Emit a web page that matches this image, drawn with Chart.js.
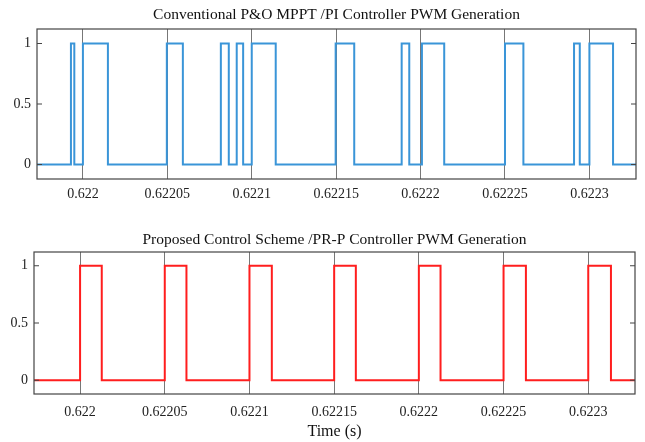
<!DOCTYPE html>
<html>
<head>
<meta charset="utf-8">
<script src="https://cdn.jsdelivr.net/npm/chart.js@4/dist/chart.umd.min.js"></script>
<style>
  body { margin: 0; background: #fff; }
  canvas { position: absolute; left: 0; }
</style>
</head>
<body>
<canvas id="convChart" width="645" height="215" style="top:0"></canvas>
<canvas id="propChart" width="645" height="227" style="top:215px"></canvas>
<script>
const timeTicks = [0.622, 0.62205, 0.6221, 0.62215, 0.6222, 0.62225, 0.6223];
const timeTickLabels = ['0.622', '0.62205', '0.6221', '0.62215', '0.6222', '0.62225', '0.6223'];
const levelTicks = [0, 0.5, 1];
const levelTickLabels = ['0', '0.5', '1'];

// switching edges (s) and the gate level right after each edge
const convEdgeTimes = [0.6219728, 0.6219929, 0.6219949, 0.622, 0.6220148, 0.6220497, 0.6220592,
  0.6220817, 0.6220864, 0.6220911, 0.6220949, 0.6221, 0.6221142, 0.6221497, 0.6221607,
  0.6221888, 0.6221933, 0.6222008, 0.622214, 0.62225, 0.6222609, 0.6222909, 0.6222943,
  0.6223, 0.622314, 0.6223276];
const convLevels = [0, 1, 0, 1, 0, 1, 0, 1, 0, 1, 0, 1, 0, 1, 0, 1, 0, 1, 0, 1, 0, 1, 0, 1, 0, 0];

const propEdgeTimes = [0.6219728, 0.622, 0.6220128, 0.62205, 0.6220628, 0.6221, 0.6221132,
  0.62215, 0.6221628, 0.6222, 0.6222128, 0.62225, 0.6222632, 0.6223, 0.6223134, 0.6223276];
const propLevels = [0, 1, 0, 1, 0, 1, 0, 1, 0, 1, 0, 1, 0, 1, 0, 0];

const serif = "'Liberation Serif', 'Times New Roman', serif";

// box around the plot area plus inward ticks on both sides
const framePlugin = {
  id: 'frame',
  afterDatasetsDraw(chart) {
    const { ctx, chartArea: a, scales: { y } } = chart;
    ctx.save();
    ctx.strokeStyle = '#444';
    ctx.lineWidth = 1.2;
    ctx.strokeRect(a.left, a.top, a.right - a.left, a.bottom - a.top);
    y.ticks.forEach(t => {
      const py = y.getPixelForValue(t.value);
      ctx.beginPath();
      ctx.moveTo(a.left, py);
      ctx.lineTo(a.left + 5, py);
      ctx.moveTo(a.right, py);
      ctx.lineTo(a.right - 5, py);
      ctx.stroke();
    });
    ctx.restore();
  }
};

function pwmChart(id, title, times, levels, color, o) {
  const points = times.map((t, i) => ({ x: t, y: levels[i] }));
  return new Chart(document.getElementById(id), {
    type: 'line',
    data: {
      datasets: [{
        data: points,
        stepped: true,
        borderColor: color,
        borderWidth: 2,
        pointRadius: 0,
        fill: false
      }]
    },
    options: {
      responsive: false,
      animation: false,
      layout: { padding: { left: 0, right: o.rightPad, top: 0, bottom: 0 } },
      plugins: {
        legend: { display: false },
        tooltip: { enabled: false },
        title: {
          display: true,
          text: title,
          fullSize: false,
          color: '#111',
          font: { family: serif, size: 15.5, weight: 'normal' },
          padding: o.titlePad
        }
      },
      scales: {
        x: {
          type: 'linear',
          min: times[0],
          max: times[times.length - 1],
          afterBuildTicks: s => { s.ticks = timeTicks.map(v => ({ value: v })); },
          afterFit: s => { s.height = o.bottomH; },
          ticks: {
            autoSkip: false,
            maxRotation: 0,
            padding: o.tickPad,
            color: '#222',
            font: { family: serif, size: 14 },
            callback: (v, i) => timeTickLabels[i]
          },
          grid: { color: '#777', lineWidth: 1, drawTicks: false },
          border: { display: false },
          title: o.xTitle ? {
            display: true,
            text: o.xTitle,
            color: '#111',
            font: { family: serif, size: 16 },
            padding: { top: 0, bottom: 1 }
          } : { display: false }
        },
        y: {
          min: -0.12,
          max: 1.12,
          afterBuildTicks: s => { s.ticks = levelTicks.map(v => ({ value: v })); },
          afterFit: s => { s.width = o.leftW; },
          ticks: {
            padding: 6,
            color: '#222',
            font: { family: serif, size: 14 },
            callback: (v, i) => levelTickLabels[i]
          },
          grid: { display: false, drawTicks: false },
          border: { display: false }
        }
      }
    },
    plugins: [framePlugin]
  });
}

pwmChart('convChart', 'Conventional P&O MPPT /PI Controller PWM Generation',
  convEdgeTimes, convLevels, '#3a95d8',
  { leftW: 37, rightPad: 9, bottomH: 36, tickPad: 7, titlePad: { top: 6, bottom: 4.4 } });

pwmChart('propChart', 'Proposed Control Scheme /PR-P Controller PWM Generation',
  propEdgeTimes, propLevels, '#ff1e1e',
  { leftW: 34, rightPad: 10, bottomH: 48, tickPad: 10, titlePad: { top: 15.4, bottom: 3 }, xTitle: 'Time (s)' });
</script>
</body>
</html>
